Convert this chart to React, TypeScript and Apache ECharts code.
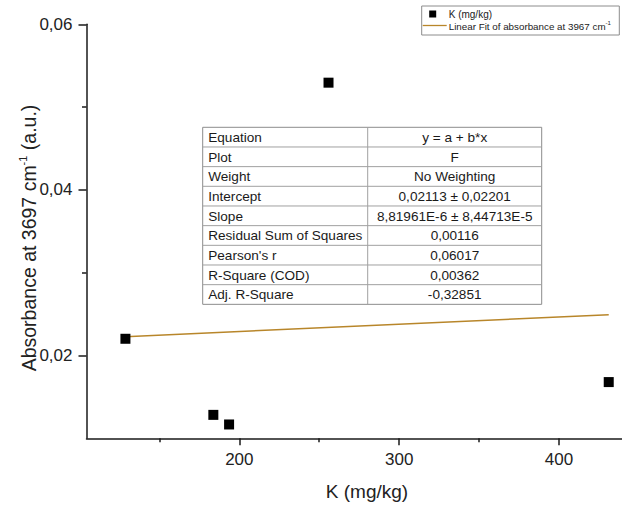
import React, { useEffect, useRef } from "react";
import * as echarts from "echarts";

// Data
const kValues = [128.75, 183.75, 193.6, 255.8, 431.1];
const absorbance = [0.02202, 0.01283, 0.01167, 0.05295, 0.01679];
const fitIntercept = 0.02113;
const fitSlope = 8.81961e-6;

const xMajorTicks = [200, 300, 400];
const xMinorTicks = [150, 250, 350];
const yMajorTicks = [0.02, 0.04, 0.06];
const yMinorTicks = [0.03, 0.05];

const tableLabels = [
  "Equation",
  "Plot",
  "Weight",
  "Intercept",
  "Slope",
  "Residual Sum of Squares",
  "Pearson's r",
  "R-Square (COD)",
  "Adj. R-Square",
];
const tableValues = [
  "y = a + b*x",
  "F",
  "No Weighting",
  "0,02113 ± 0,02201",
  "8,81961E-6 ± 8,44713E-5",
  "0,00116",
  "0,06017",
  "0,00362",
  "-0,32851",
];

const FONT = "'Liberation Sans', Arial, sans-serif";
const AXIS_COLOR = "#1a1a1a";
const FIT_COLOR = "#b8862a";

export default function App() {
  const ref = useRef<HTMLDivElement>(null);

  useEffect(() => {
    document.body.style.margin = "0";
    if (!ref.current) return;
    const chart = echarts.init(ref.current, undefined, { renderer: "svg" });

    const xMin = 104.4;
    const xMax = 439.4;
    const yMin = 0.01;
    const yMax = 0.06;

    const fitX0 = Math.min(...kValues);
    const fitX1 = Math.max(...kValues);
    const fitData = [
      [fitX0, fitIntercept + fitSlope * fitX0],
      [fitX1, fitIntercept + fitSlope * fitX1],
    ];

    // Table geometry
    const tLeft = 202.7;
    const tTop = 127.3;
    const tWidth = 339;
    const tDiv = 367.7;
    const rowH = 19.67;
    const tHeight = rowH * tableLabels.length;
    const tableEls: any[] = [];
    tableEls.push({
      type: "rect",
      shape: { x: tLeft, y: tTop, width: tWidth, height: tHeight },
      style: { fill: "#fff", stroke: "#8c8c8c", lineWidth: 1 },
      z: 10,
    });
    for (let i = 1; i < tableLabels.length; i++) {
      tableEls.push({
        type: "line",
        shape: { x1: tLeft, y1: tTop + i * rowH, x2: tLeft + tWidth, y2: tTop + i * rowH },
        style: { stroke: "#a0a0a0", lineWidth: 1 },
        z: 11,
      });
    }
    tableEls.push({
      type: "line",
      shape: { x1: tDiv, y1: tTop, x2: tDiv, y2: tTop + tHeight },
      style: { stroke: "#a0a0a0", lineWidth: 1 },
      z: 11,
    });
    tableLabels.forEach((lab, i) => {
      tableEls.push({
        type: "text",
        x: tLeft + 5.5,
        y: tTop + (i + 0.5) * rowH + 0.5,
        style: {
          text: lab,
          fontSize: 13.6,
          fontFamily: FONT,
          fill: "#1a1a1a",
          textAlign: "left",
          textVerticalAlign: "middle",
        },
        z: 12,
      });
      tableEls.push({
        type: "text",
        x: (tDiv + tLeft + tWidth) / 2,
        y: tTop + (i + 0.5) * rowH + 0.5,
        style: {
          text: tableValues[i],
          fontSize: 13.6,
          fontFamily: FONT,
          fill: "#1a1a1a",
          textAlign: "center",
          textVerticalAlign: "middle",
        },
        z: 12,
      });
    });

    const option: any = {
      animation: false,
      backgroundColor: "#fff",
      grid: { left: 86.5, right: 0, top: 24.3, bottom: 70.7, containLabel: false },
      xAxis: [
        {
          type: "value",
          min: xMin,
          max: xMax,
          position: "bottom",
          axisLine: { show: true, lineStyle: { color: AXIS_COLOR, width: 1.5 } },
          axisTick: {
            show: true,
            customValues: xMajorTicks,
            length: 7,
            lineStyle: { color: AXIS_COLOR, width: 1.5 },
          },
          axisLabel: {
            customValues: xMajorTicks,
            margin: 13,
            fontSize: 17,
            fontFamily: FONT,
            color: "#222",
          },
          splitLine: { show: false },
        },
        {
          type: "value",
          min: xMin,
          max: xMax,
          position: "bottom",
          offset: 0,
          axisLine: { show: false },
          axisTick: {
            show: true,
            customValues: xMinorTicks,
            length: 4,
            lineStyle: { color: AXIS_COLOR, width: 1.5 },
          },
          axisLabel: { show: false },
          splitLine: { show: false },
        },
      ],
      yAxis: [
        {
          type: "value",
          min: yMin,
          max: yMax,
          position: "left",
          axisLine: { show: true, lineStyle: { color: AXIS_COLOR, width: 1.5 } },
          axisTick: {
            show: true,
            customValues: yMajorTicks,
            length: 8,
            lineStyle: { color: AXIS_COLOR, width: 1.5 },
          },
          axisLabel: {
            customValues: yMajorTicks,
            margin: 14,
            fontSize: 17,
            fontFamily: FONT,
            color: "#222",
            formatter: (v: number) => v.toFixed(2).replace(".", ","),
          },
          splitLine: { show: false },
        },
        {
          type: "value",
          min: yMin,
          max: yMax,
          position: "left",
          offset: 0,
          axisLine: { show: false },
          axisTick: {
            show: true,
            customValues: yMinorTicks,
            length: 4.5,
            lineStyle: { color: AXIS_COLOR, width: 1.5 },
          },
          axisLabel: { show: false },
          splitLine: { show: false },
        },
      ],
      series: [
        {
          type: "line",
          name: "Linear Fit of absorbance at 3967 cm-1",
          data: fitData,
          showSymbol: false,
          symbol: "none",
          lineStyle: { color: FIT_COLOR, width: 1.5 },
          z: 2,
        },
        {
          type: "scatter",
          name: "K (mg/kg)",
          data: kValues.map((x, i) => [x, absorbance[i]]),
          symbol: "rect",
          symbolSize: 10,
          itemStyle: { color: "#000", opacity: 1 },
          z: 3,
        },
      ],
      graphic: [
        {
          type: "text",
          x: 367,
          y: 491.7,
          style: {
            text: "K (mg/kg)",
            fontSize: 19,
            fontFamily: FONT,
            fill: "#222",
            textAlign: "center",
            textVerticalAlign: "middle",
          },
        },
        {
          type: "text",
          x: 28,
          y: 238,
          rotation: Math.PI / 2,
          style: {
            text: "{n|Absorbance at 3697 cm}{s|-1}{n| (a.u.)}",
            textAlign: "center",
            textVerticalAlign: "middle",
            fill: "#222",
            rich: {
              n: { fontSize: 19.5, fontFamily: FONT, fill: "#222", lineHeight: 22, verticalAlign: "bottom" },
              s: { fontSize: 11, fontFamily: FONT, fill: "#222", lineHeight: 12, verticalAlign: "top" },
            },
          },
        },
        // Legend
        {
          type: "rect",
          shape: { x: 421.7, y: 6, width: 197.6, height: 29 },
          style: { fill: "#fff", stroke: "#8c8c8c", lineWidth: 1 },
          z: 10,
        },
        {
          type: "rect",
          shape: { x: 429.2, y: 10.5, width: 7, height: 7 },
          style: { fill: "#000" },
          z: 11,
        },
        {
          type: "text",
          x: 448.7,
          y: 14.2,
          style: {
            text: "K (mg/kg)",
            fontSize: 10,
            fontFamily: FONT,
            fill: "#222",
            textAlign: "left",
            textVerticalAlign: "middle",
          },
          z: 11,
        },
        {
          type: "line",
          shape: { x1: 422.7, y1: 25.5, x2: 446.7, y2: 25.5 },
          style: { stroke: FIT_COLOR, lineWidth: 1.3 },
          z: 11,
        },
        {
          type: "text",
          x: 448.7,
          y: 25.5,
          style: {
            text: "{n|Linear Fit of absorbance at 3967 cm}{s|-1}",
            textAlign: "left",
            textVerticalAlign: "middle",
            rich: {
              n: { fontSize: 9.8, fontFamily: FONT, fill: "#222", lineHeight: 11, verticalAlign: "bottom" },
              s: { fontSize: 6, fontFamily: FONT, fill: "#222", lineHeight: 7, verticalAlign: "top" },
            },
          },
          z: 11,
        },
        ...tableEls,
      ],
    };

    chart.setOption(option);
    return () => {
      chart.dispose();
    };
  }, []);

  return <div ref={ref} style={{ width: 622, height: 509 }} />;
}
